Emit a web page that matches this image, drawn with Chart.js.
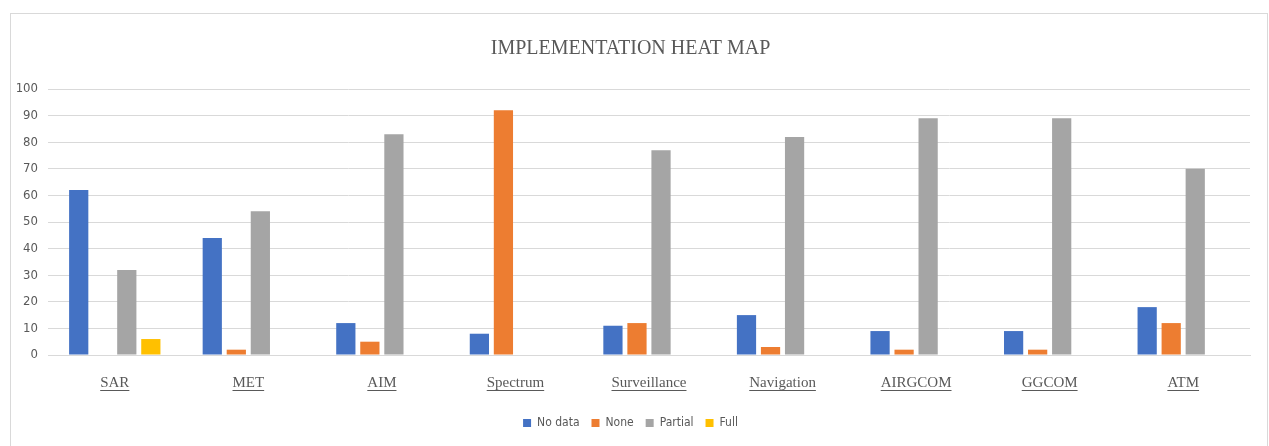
<!DOCTYPE html>
<html lang="en">
<head>
    <meta charset="UTF-8">
    <title>Implementation Heat Map</title>
    <style>
        body { margin: 0; background: #ffffff; }
        .moldura {
            position: absolute;
            left: 10px;
            top: 13px;
            width: 1256px;
            height: 440px;
            border: 1px solid #d9d9d9;
            background: #ffffff;
        }
    </style>
</head>
<body>
    <div class="moldura">
        <canvas id="heatChart" width="1256" height="440"></canvas>
    </div>

    <script src="https://cdn.jsdelivr.net/npm/chart.js"></script>
    <script>
// === DADOS ===
const categorias = ['SAR', 'MET', 'AIM', 'Spectrum', 'Surveillance', 'Navigation', 'AIRGCOM', 'GGCOM', 'ATM'];
const semDados = [62, 44, 12, 8, 11, 15, 9, 9, 18];
const nenhum   = [0, 2, 5, 92, 12, 3, 2, 2, 12];
const parcial  = [32, 54, 83, 0, 77, 82, 89, 89, 70];
const completo = [6, 0, 0, 0, 0, 0, 0, 0, 0];
const ticksY   = [0, 10, 20, 30, 40, 50, 60, 70, 80, 90, 100];

const cinzaTexto = '#595959';
const fonteX = { family: '"Liberation Serif", "Times New Roman", serif', size: 15 };
const fonteSans = '"Liberation Sans Narrow", "DejaVu Sans Condensed", sans-serif';

// sublinhado dos rótulos do eixo x
const sublinhado = {
    id: 'sublinhado',
    afterDraw(chart) {
        const x = chart.scales.x;
        const c = chart.ctx;
        c.save();
        c.font = fonteX.size + 'px ' + fonteX.family;
        c.strokeStyle = cinzaTexto;
        c.lineWidth = 1;
        const y = Math.round(x.top + 18 + fonteX.size + 2) + 0.5;
        categorias.forEach((nome, i) => {
            const px = x.getPixelForTick(i);
            const w = c.measureText(nome).width;
            c.beginPath();
            c.moveTo(px - w / 2, y);
            c.lineTo(px + w / 2, y);
            c.stroke();
        });
        c.restore();
    }
};

const ctx = document.getElementById('heatChart').getContext('2d');
new Chart(ctx, {
    type: 'bar',
    data: {
        labels: categorias,
        datasets: [
            { label: 'No data', data: semDados, backgroundColor: '#4472C4' },
            { label: 'None', data: nenhum, backgroundColor: '#ED7D31' },
            { label: 'Partial', data: parcial, backgroundColor: '#A5A5A5' },
            { label: 'Full', data: completo, backgroundColor: '#FFC000' }
        ]
    },
    options: {
        responsive: false,
        animation: false,
        categoryPercentage: 0.72,
        barPercentage: 0.8,
        layout: { padding: { left: 0, right: 17, top: 0, bottom: 15 } },
        scales: {
            x: {
                grid: { display: false, drawTicks: false },
                border: { color: '#d9d9d9' },
                ticks: { color: cinzaTexto, font: fonteX, padding: 19 },
                afterFit(s) { s.height = 50; }
            },
            y: {
                min: 0,
                max: 100,
                afterBuildTicks(s) { s.ticks = ticksY.map(v => ({ value: v })); },
                grid: { color: '#d9d9d9', drawTicks: false },
                border: { display: false },
                ticks: {
                    color: cinzaTexto,
                    padding: 10,
                    font: { family: fonteSans, size: 13 }
                },
                afterFit(s) { s.width = 37; }
            }
        },
        plugins: {
            title: {
                display: true,
                text: 'IMPLEMENTATION HEAT MAP',
                color: cinzaTexto,
                font: { family: '"Liberation Serif", "Times New Roman", serif', size: 20, weight: 'normal' },
                padding: { top: 23, bottom: 28 }
            },
            legend: {
                position: 'bottom',
                labels: {
                    color: cinzaTexto,
                    boxWidth: 8,
                    boxHeight: 8,
                    padding: 12,
                    font: { family: fonteSans, size: 12 }
                }
            },
            tooltip: { enabled: false }
        }
    },
    plugins: [sublinhado]
});
    </script>
</body>
</html>
